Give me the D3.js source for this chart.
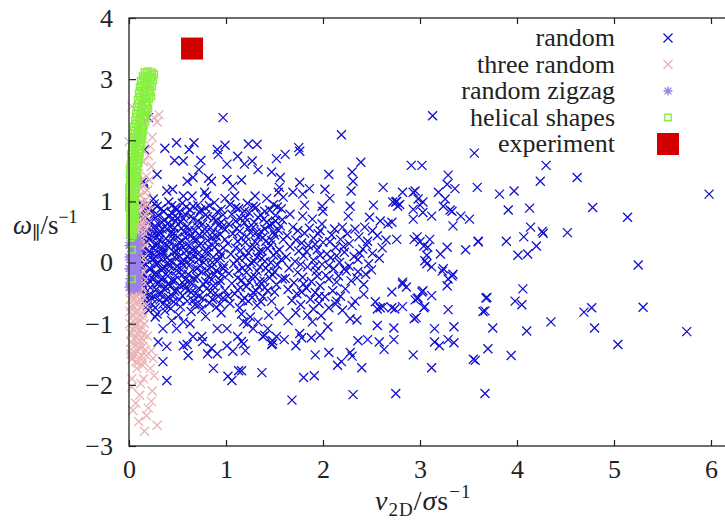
<!DOCTYPE html>
<html>
<head>
<meta charset="utf-8">
<script src="https://cdn.jsdelivr.net/npm/d3@7"></script>
<style>
body { margin: 0; background: #fff; }
svg text { font-family: "Liberation Serif", "DejaVu Serif", serif; fill: #222; }
</style>
</head>
<body>
<svg id="chart" width="725" height="529"></svg>
<script>
// legend labels, in plot order
const seriesNames = ["random", "three random", "random zigzag", "helical shapes", "experiment"];
const xTicks = [0, 1, 2, 3, 4, 5, 6];
const yTicks = [-3, -2, -1, 0, 1, 2, 3, 4];

// "random" shapes: [v2D, omega]
const randomPts = [
  [5.98,1.12],[3.56,1.79],[4.30,1.59],[4.24,1.33],[4.62,1.39],[3.82,1.12],[3.97,1.17],[3.91,0.86],[4.13,0.89],[4.78,0.90],
  [5.14,0.74],[4.14,0.58],[4.26,0.51],[4.27,0.48],[4.07,0.42],[4.52,0.49],[3.89,0.35],[3.60,0.34],[4.20,0.27],[4.01,0.12],
  [4.11,0.14],[5.25,-0.04],[3.59,1.23],[4.06,-0.43],[3.68,-0.58],[3.98,-0.63],[4.05,-0.69],[3.67,-0.79],[4.69,-0.81],[4.77,-0.74],
  [5.30,-0.73],[3.75,-1.07],[4.10,-1.12],[4.35,-0.97],[4.80,-1.07],[5.75,-1.13],[5.04,-1.34],[3.70,-1.41],[3.94,-1.52],[3.57,-1.60],
  [3.67,-2.14],[1.68,-2.25],[2.31,-2.16],[2.75,-2.14],[1.80,-1.88],[1.91,-1.85],[1.37,-1.80],[2.15,-1.68],[2.40,-1.72],[1.16,-1.77],
  [3.12,-1.72],[3.55,-1.58],[2.19,-1.62],[1.92,-1.51],[2.06,-1.47],[2.28,-1.47],[2.30,-1.53],[2.93,-1.51],[2.63,-1.42],[2.36,-1.28],
  [2.46,-1.26],[2.58,-1.30],[2.73,-1.26],[1.72,-1.36],[1.78,-1.23],[1.88,-1.23],[1.60,-1.26],[1.47,-1.34],[3.15,-1.30],[3.20,-1.36],
  [3.29,-1.26],[3.35,-1.31],[3.15,-1.08],[3.35,-1.05],[2.73,-1.07],[2.56,-1.03],[2.94,-0.92],[2.35,-0.94],[2.28,-0.92],[3.29,-0.77],
  [3.65,-0.80],[3.04,-0.74],[2.82,-0.72],[2.71,-0.74],[2.62,-0.72],[2.56,-0.76],[2.98,-0.58],[3.03,-0.46],[2.95,-0.61],[2.82,-0.35],
  [2.71,-0.48],[3.07,-0.02],[3.12,-0.07],[3.24,-0.10],[3.29,-0.27],[3.34,-0.19],[3.69,-0.57],[2.36,-0.15],[2.44,-0.19],[2.24,-0.14],
  [2.14,-0.32],[2.23,-0.43],[2.33,-0.63],[2.14,-0.63],[2.54,-0.64],[2.59,-0.74],[1.64,-0.95],[1.38,-1.21],[1.48,-1.28],[1.76,-1.16],
  [1.97,-1.19],[2.05,-1.05],[1.98,-0.87],[1.89,-0.97],[1.22,-1.00],[1.16,-1.29],
  [0.97,2.37],[0.37,1.87],[0.49,1.96],[0.62,1.85],[0.67,1.96],[0.91,1.85],[0.99,1.92],[1.23,1.94],[1.32,1.93],[0.47,1.67],
  [0.56,1.66],[0.74,1.67],[0.92,1.77],[1.12,1.74],[1.27,1.66],[1.01,1.61],[1.19,1.61],[1.52,1.70],[0.72,1.52],[0.29,1.44],
  [1.33,1.52],[1.47,1.48],[0.60,1.33],[0.66,1.39],[0.82,1.38],[0.85,1.33],[1.01,1.36],[1.07,1.25],[1.16,1.35],[0.39,1.17],
  [0.45,1.20],[0.56,1.09],[0.65,1.09],[0.78,1.15],[0.80,1.09],[0.99,1.05],[1.09,1.09],[1.30,1.09],[1.42,1.05],[1.54,1.15],
  [0.25,1.04],[2.19,2.09],[1.75,1.88],[1.76,1.82],[1.61,1.77],[2.39,1.64],[2.30,1.48],[2.06,1.44],[1.56,1.39],[2.31,1.33],
  [1.76,1.31],[1.55,1.23],[2.02,1.20],[1.86,1.21],[2.29,1.17],[2.62,1.23],[1.69,1.15],[1.79,1.12],[1.59,1.07],[2.07,1.05],
  [1.53,0.91],[1.81,0.94],[1.99,0.92],[2.28,0.92],[2.52,0.94],[2.75,0.99],[1.66,0.79],[1.79,0.76],[2.00,0.84],[2.26,0.76],
  [2.48,0.74],[2.59,0.68],[2.67,0.63],[1.51,0.68],[1.89,0.71],[1.99,0.63],[2.20,0.58],[2.33,0.55],[2.43,0.58],[1.56,0.60],
  [1.69,0.58],[1.95,0.47],[3.13,2.40],[2.91,1.59],[3.02,1.59],[3.29,1.43],[3.36,1.21],[3.19,1.15],[3.28,1.28],[2.82,1.15],
  [2.93,1.15],[3.12,0.76],[3.24,0.92],[3.33,0.84],[3.42,0.76],[3.51,0.71],[3.34,0.60],[3.60,0.35],[3.47,0.21],[2.94,0.38],
  [3.10,0.38],[3.04,0.27],[3.21,0.14],[3.28,0.25],[2.93,0.71],[3.03,0.82],[3.03,0.99],[2.77,0.92],[2.76,1.00],[2.72,0.99],
  [2.79,0.95],[2.95,1.17],[2.98,1.04],[2.93,0.87],[3.00,0.94],[3.26,1.04],[3.31,0.86],[2.71,0.66],[2.76,0.38],[2.97,0.42],
  [3.00,0.34],[3.08,0.25],[3.07,0.12],[3.05,0.03],[3.23,-0.14],[3.33,-0.22],[3.28,-0.38],[2.82,-0.32],[2.86,-0.40],[3.02,-0.48],
  [3.12,-0.54],[2.97,-0.59],[3.05,-0.72],[2.74,-0.76],[2.96,-0.90],
  [1.13,-1.77],[1.02,-1.86],[1.06,-1.93],[0.87,-1.73],[0.39,-1.93],[0.35,-1.62],[0.61,-1.52],[0.60,-1.34],[0.56,-1.36],[0.39,-1.37],
  [0.30,-1.30],[0.75,-1.21],[0.76,-1.29],[0.85,-1.40],[0.81,-1.49],[0.91,-1.49],[1.01,-1.36],[1.07,-1.45],[1.18,-1.33],[1.20,-1.44],
  [1.12,-1.21],[1.40,-1.19],[1.48,-1.33],[1.18,-0.97],[1.01,-1.08],[0.91,-1.08],[0.66,-1.21],[0.63,-1.00],[0.49,-1.08],[0.35,-1.08],
  [0.56,-0.97],[0.44,-0.95],[0.27,-0.89],[1.28,-1.08],[1.33,-0.97],[1.43,-1.08],[1.52,-1.21],[1.16,-0.84],[1.25,-0.89],
  [0.20,2.37],[0.16,1.85],[0.15,1.33],[0.16,1.28],
  // dense core
  [0.12,0.98],[0.18,0.91],[0.26,0.96],[0.33,0.88],[0.41,0.99],[0.48,0.90],[0.55,0.97],[0.63,0.86],[0.71,0.94],[0.79,0.89],
  [0.88,0.98],[0.95,0.87],[0.11,0.80],[0.17,0.74],[0.23,0.83],[0.30,0.77],[0.37,0.70],[0.44,0.81],[0.50,0.73],[0.58,0.79],
  [0.66,0.71],[0.73,0.82],[0.81,0.75],[0.90,0.69],[0.97,0.78],[0.10,0.64],[0.15,0.58],[0.21,0.67],[0.27,0.60],[0.34,0.55],
  [0.40,0.63],[0.47,0.57],[0.53,0.66],[0.60,0.59],[0.68,0.52],[0.76,0.63],[0.84,0.57],[0.92,0.61],[0.99,0.54],[0.12,0.49],
  [0.19,0.43],[0.25,0.51],[0.31,0.45],[0.38,0.39],[0.43,0.48],[0.50,0.42],[0.57,0.50],[0.64,0.44],[0.70,0.37],[0.78,0.47],
  [0.86,0.41],[0.94,0.46],[0.10,0.34],[0.16,0.28],[0.22,0.36],[0.29,0.30],[0.35,0.24],[0.42,0.33],[0.48,0.27],[0.55,0.35],
  [0.62,0.28],[0.69,0.22],[0.74,0.31],[0.82,0.26],[0.89,0.33],[0.97,0.24],[0.13,0.18],[0.20,0.12],[0.27,0.20],[0.33,0.14],
  [0.39,0.08],[0.46,0.17],[0.52,0.10],[0.59,0.19],[0.66,0.12],[0.72,0.05],[0.80,0.15],[0.87,0.09],[0.93,0.18],[0.11,0.03],
  [0.17,-0.04],[0.24,0.05],[0.30,-0.02],[0.37,-0.08],[0.44,0.01],[0.50,-0.06],[0.57,0.03],[0.63,-0.03],[0.70,-0.10],[0.77,0.00],
  [0.85,-0.07],[0.91,0.02],[0.98,-0.05],[0.10,-0.13],[0.16,-0.20],[0.22,-0.11],[0.28,-0.17],[0.35,-0.24],[0.41,-0.14],[0.48,-0.21],
  [0.54,-0.12],[0.61,-0.19],[0.67,-0.26],[0.75,-0.15],[0.82,-0.22],[0.90,-0.13],[0.96,-0.20],[0.12,-0.29],[0.19,-0.36],[0.25,-0.27],
  [0.31,-0.33],[0.38,-0.40],[0.45,-0.30],[0.52,-0.37],[0.58,-0.28],[0.65,-0.35],[0.72,-0.42],[0.79,-0.31],[0.87,-0.38],[0.94,-0.29],
  [0.14,-0.46],[0.21,-0.52],[0.28,-0.44],[0.34,-0.50],[0.41,-0.57],[0.47,-0.47],[0.55,-0.54],[0.62,-0.45],[0.69,-0.51],[0.76,-0.58],
  [0.84,-0.48],[0.92,-0.55],[0.99,-0.46],[0.17,-0.62],[0.24,-0.68],[0.32,-0.61],[0.39,-0.70],[0.46,-0.64],[0.53,-0.72],[0.60,-0.63],
  [0.68,-0.69],[0.75,-0.76],[0.83,-0.66],[0.90,-0.73],[0.20,-0.78],[0.29,-0.84],[0.37,-0.79],[0.51,-0.86],[0.64,-0.80],[0.79,-0.88],
  [0.95,-0.82],[0.14,0.71],[0.24,0.25],[0.19,0.55],[0.31,0.62],[0.15,0.40],[0.26,0.07],[0.13,-0.07],[0.21,-0.30],[0.29,0.42],
  [0.36,0.15],[0.43,0.58],[0.40,-0.35],[0.18,0.22],[0.33,-0.12],[0.26,-0.56],[0.16,0.85],[0.45,0.72],[0.52,0.24],[0.58,-0.42],
  [0.49,0.86],
  [1.04,0.95],[1.13,0.88],[1.22,0.97],[1.31,0.90],[1.40,0.84],[1.49,0.95],[1.57,0.88],[1.06,0.79],[1.15,0.72],[1.24,0.81],
  [1.33,0.74],[1.42,0.66],[1.51,0.77],[1.58,0.70],[1.03,0.63],[1.11,0.56],[1.19,0.65],[1.28,0.58],[1.36,0.51],[1.45,0.61],
  [1.54,0.53],[1.07,0.47],[1.16,0.40],[1.25,0.49],[1.33,0.42],[1.41,0.35],[1.50,0.45],[1.59,0.38],[1.02,0.31],[1.10,0.24],
  [1.20,0.33],[1.29,0.26],[1.37,0.19],[1.46,0.29],[1.55,0.21],[1.05,0.14],[1.14,0.07],[1.23,0.16],[1.32,0.09],[1.40,0.02],
  [1.49,0.12],[1.57,0.05],[1.08,-0.02],[1.17,-0.09],[1.26,0.00],[1.35,-0.07],[1.44,-0.14],[1.53,-0.04],[1.03,-0.18],[1.12,-0.25],
  [1.21,-0.16],[1.30,-0.23],[1.39,-0.30],[1.48,-0.20],[1.58,-0.27],[1.06,-0.34],[1.15,-0.41],[1.24,-0.32],[1.34,-0.39],[1.43,-0.46],
  [1.52,-0.36],[1.09,-0.51],[1.19,-0.58],[1.28,-0.49],[1.38,-0.56],[1.47,-0.63],[1.04,-0.67],[1.14,-0.74],[1.32,-0.70],[1.23,-0.63],
  [1.63,0.44],[1.72,0.37],[1.81,0.48],[1.90,0.40],[2.00,0.33],[2.09,0.45],[2.18,0.38],[2.27,0.31],[2.37,0.42],[2.46,0.35],
  [2.56,0.44],[2.65,0.37],[1.66,0.26],[1.75,0.19],[1.85,0.28],[1.94,0.21],[2.04,0.14],[2.13,0.25],[2.22,0.17],[2.32,0.10],
  [2.41,0.22],[2.51,0.15],[2.61,0.24],[1.62,0.09],[1.71,0.02],[1.80,0.11],[1.90,0.04],[1.99,-0.03],[2.08,0.08],[2.17,0.00],
  [2.27,-0.06],[2.36,0.05],[2.47,-0.02],[2.58,0.07],[1.65,-0.09],[1.74,-0.16],[1.84,-0.07],[1.93,-0.14],[2.03,-0.21],[2.11,-0.10],
  [2.50,-0.12],[1.61,-0.26],[1.70,-0.33],[1.79,-0.24],[1.88,-0.31],[1.97,-0.38],[2.06,-0.27],[2.29,-0.30],[2.42,-0.36],[1.64,-0.44],
  [1.73,-0.51],[1.83,-0.42],[1.92,-0.49],[2.02,-0.56],[2.10,-0.46],[2.42,-0.52],[1.68,-0.62],[1.77,-0.69],[1.87,-0.60],[1.96,-0.67],
  [2.06,-0.74],[2.20,-0.78],[1.72,-0.82],[1.84,-0.86],[1.55,-0.80],[1.44,-0.86],
  [0.14,0.93],[0.22,0.88],[0.29,0.92],[0.36,0.84],[0.44,0.93],[0.52,0.83],[0.59,0.91],[0.13,0.77],[0.20,0.70],[0.27,0.73],
  [0.34,0.66],[0.41,0.75],[0.48,0.68],[0.56,0.72],[0.12,0.60],[0.18,0.50],[0.25,0.57],[0.32,0.50],[0.39,0.55],[0.46,0.47],
  [0.54,0.56],[0.11,0.41],[0.18,0.35],[0.24,0.44],[0.31,0.37],[0.37,0.31],[0.45,0.40],[0.52,0.33],[0.58,0.41],[0.14,0.25],
  [0.21,0.19],[0.28,0.27],[0.35,0.20],[0.41,0.26],[0.49,0.19],[0.56,0.25],[0.12,0.10],[0.19,0.04],[0.26,0.13],[0.33,0.06],
  [0.40,0.00],[0.47,0.09],[0.54,0.02],[0.60,0.10],[0.14,-0.05],[0.21,-0.09],[0.28,-0.03],[0.35,-0.10],[0.42,-0.06],[0.49,-0.13],
  [0.56,-0.04],[0.12,-0.22],[0.19,-0.25],[0.26,-0.19],[0.33,-0.27],[0.40,-0.22],[0.47,-0.29],[0.55,-0.20],[0.14,-0.37],[0.22,-0.41],
  [0.29,-0.35],[0.36,-0.43],[0.43,-0.38],[0.50,-0.45],[0.57,-0.36],[0.16,-0.53],[0.23,-0.58],[0.31,-0.52],[0.38,-0.60],[0.45,-0.55],
  [0.52,-0.61],[0.19,-0.70],[0.27,-0.74],[0.35,-0.68],[0.43,-0.75],
  [0.66,0.92],[0.74,0.86],[0.83,0.93],[0.91,0.83],[0.64,0.76],[0.71,0.68],[0.79,0.78],[0.87,0.72],[0.95,0.66],[0.62,0.53],
  [0.70,0.60],[0.78,0.55],[0.86,0.49],[0.96,0.58],[0.66,0.39],[0.73,0.45],[0.81,0.36],[0.90,0.43],[0.99,0.38],[0.65,0.21],
  [0.72,0.28],[0.80,0.20],[0.88,0.25],[0.95,0.13],[0.64,0.05],[0.71,0.14],[0.78,0.07],[0.86,0.00],[0.94,0.08],[0.66,-0.12],
  [0.73,-0.05],[0.80,-0.13],[0.88,-0.19],[0.97,-0.10],[0.62,-0.30],[0.70,-0.24],[0.77,-0.36],[0.85,-0.28],[0.93,-0.34],[0.64,-0.49],
  [0.72,-0.55],[0.80,-0.43],[0.89,-0.50],[0.97,-0.58],[0.66,-0.62],[0.73,-0.68],[0.86,-0.60],[0.94,-0.68],[1.02,-0.55],
  [1.10,0.90],[1.19,0.84],[1.28,0.92],[1.36,0.78],[1.45,0.86],[1.10,0.68],[1.20,0.73],[1.29,0.66],[1.39,0.71],[1.48,0.63],
  [1.14,0.51],[1.23,0.56],[1.31,0.49],[1.40,0.55],[1.49,0.50],[1.12,0.35],[1.21,0.42],[1.30,0.34],[1.38,0.41],[1.47,0.36],
  [1.15,0.20],[1.25,0.25],[1.34,0.18],[1.43,0.23],[1.52,0.17],[1.11,0.04],[1.20,0.09],[1.29,0.02],[1.37,0.07],[1.46,0.00],
  [1.13,-0.13],[1.23,-0.07],[1.32,-0.14],[1.41,-0.09],[1.50,-0.15],[1.16,-0.29],[1.26,-0.24],[1.35,-0.31],[1.45,-0.25],[1.12,-0.45],
  [1.21,-0.39],[1.31,-0.46],[1.40,-0.41],[1.50,-0.48],[1.17,-0.62],[1.27,-0.57],[1.36,-0.64],
  [1.74,0.52],[1.86,0.56],[1.97,0.52],[2.12,0.55],[2.25,0.47],[2.51,0.52],[1.78,0.32],[1.92,0.30],[2.07,0.34],[2.21,0.26],
  [2.45,0.29],[1.83,0.18],[1.97,0.12],[2.14,0.11],[2.38,0.15],[1.77,-0.03],[1.92,-0.05],[2.06,-0.05],[2.22,-0.10],[1.80,-0.35],
  [1.94,-0.22],[2.16,-0.22],[2.35,-0.25],[1.78,-0.48],[1.96,-0.55],[2.18,-0.55],[1.90,-0.76],[2.13,-0.68],[2.30,-0.70]
];

const threeRandomPts = [
  [0.31,2.42],[0.26,2.37],[0.18,2.42],[0.03,2.55],[0.00,1.98],[0.22,1.90],[0.23,1.57],[0.18,1.41],[0.01,1.33],[0.29,2.30],
  [0.12,2.20],[0.05,2.05],[0.20,1.75],[0.15,1.65],[0.02,1.72],[0.24,2.05],[0.01,1.50],
  [0.08,1.30],[0.14,1.25],[0.19,1.18],[0.11,1.10],[0.17,1.02],[0.07,0.96],[0.13,0.90],[0.20,0.85],[0.09,0.78],[0.16,0.72],
  [0.06,0.66],[0.12,0.60],[0.18,0.55],[0.08,0.50],[0.14,0.44],[0.05,0.38],[0.11,0.33],[0.17,0.28],[0.21,1.35],[0.10,1.45],
  [0.04,1.20],[0.18,0.95],[0.03,0.85],[0.15,0.62],
  [0.03,-0.45],[0.09,-0.50],[0.14,-0.55],[0.05,-0.60],[0.11,-0.66],[0.02,-0.72],[0.08,-0.78],[0.14,-0.83],[0.04,-0.88],[0.10,-0.94],
  [0.16,-1.00],[0.06,-1.05],[0.12,-1.11],[0.02,-1.16],[0.08,-1.22],[0.15,-1.27],[0.04,-1.33],[0.11,-1.38],[0.17,-1.43],[0.06,-1.48],
  [0.13,-1.53],[0.03,-1.58],[0.09,-1.64],[0.19,-1.20],[0.18,-0.70],[0.01,-1.00],[0.13,-0.40],[0.07,-0.30],[0.12,-0.20],
  [0.18,-2.50],[0.29,-2.66],[0.16,-2.76],[0.04,-2.42],[0.11,-2.17],[0.23,-2.27],[0.03,-2.03],[0.15,-1.90],[0.22,-1.73],[0.25,-1.57],
  [0.15,-1.62],[0.08,-1.73],[0.03,-1.90],[0.23,-1.44],[0.18,-1.52],[0.20,-2.38],[0.10,-2.60],[0.26,-1.85],[0.07,-2.30],[0.12,-1.98],
  [0.24,-2.10],
  [0.06,1.38],[0.12,1.33],[0.16,1.15],[0.09,1.05],[0.14,0.98],[0.05,0.90],[0.11,0.82],[0.17,0.78],[0.07,0.70],[0.13,0.66],
  [0.19,0.62],[0.09,0.56],[0.15,0.50],[0.06,0.45],[0.12,0.40],[0.08,0.30],[0.14,0.24],[0.10,0.18],[0.15,0.08],[0.13,-0.05],
  [0.15,-0.15],[0.10,-0.25],[0.15,-0.32],[0.05,-0.50],[0.12,-0.48],[0.07,-0.55],[0.13,-0.62],[0.08,-0.66],[0.04,-0.70],[0.12,-0.74],
  [0.06,-0.82],[0.11,-0.86],[0.15,-0.90],[0.05,-0.96],[0.08,-1.01],[0.13,-1.05],[0.04,-1.10],[0.09,-1.15],[0.15,-1.18],[0.05,-1.25],
  [0.11,-1.28],[0.07,-1.35],[0.14,-1.38],[0.02,-1.42],[0.09,-1.45],[0.05,-1.52],[0.11,-1.56],[0.07,-1.62],[0.14,-1.68],[0.02,-1.50],
  [0.01,-0.60],[0.01,-0.80],[0.02,-1.30]
];

const zigzagPts = [
  [0.01,0.40],[0.05,0.38],[0.09,0.35],[0.03,0.32],[0.07,0.28],[0.02,0.24],[0.06,0.20],[0.10,0.17],[0.04,0.13],[0.08,0.09],
  [0.01,0.05],[0.05,0.02],[0.09,-0.02],[0.03,-0.06],[0.07,-0.10],[0.02,-0.14],[0.06,-0.18],[0.10,-0.21],[0.04,-0.25],[0.08,-0.29],
  [0.01,-0.33],[0.05,-0.36],[0.09,-0.39],[0.03,-0.42],[0.06,-0.44],[0.02,0.12],[0.08,0.26],[0.04,-0.20],[0.07,0.00],[0.03,0.36],
  [0.02,0.42],[0.06,0.41],[0.09,0.40],[0.04,0.34],[0.08,0.31],[0.00,0.28],[0.05,0.25],[0.09,0.22],[0.03,0.18],[0.07,0.15],
  [0.00,0.09],[0.04,0.06],[0.08,0.04],[0.02,0.00],[0.06,-0.03],[0.10,-0.07],[0.00,-0.10],[0.05,-0.13],[0.09,-0.15],[0.03,-0.17],
  [0.07,-0.23],[0.01,-0.26],[0.06,-0.29],[0.10,-0.31],[0.03,-0.34],[0.08,-0.36],[0.00,-0.40],[0.05,-0.42],[0.09,-0.44],[0.02,-0.46]
];

const helicalPts = [
  [0.16,3.12],[0.20,3.13],[0.24,3.11],[0.26,3.08],[0.14,3.05],[0.19,3.04],[0.23,3.02],[0.12,2.97],[0.17,2.95],[0.22,2.93],
  [0.25,2.98],[0.11,2.87],[0.15,2.85],[0.20,2.84],[0.24,2.88],[0.10,2.77],[0.14,2.75],[0.18,2.73],[0.22,2.78],[0.09,2.66],
  [0.13,2.64],[0.17,2.62],[0.21,2.68],[0.08,2.55],[0.12,2.53],[0.16,2.51],[0.19,2.57],[0.07,2.44],[0.11,2.42],[0.15,2.40],
  [0.18,2.46],[0.06,2.33],[0.10,2.31],[0.14,2.29],[0.16,2.35],[0.05,2.22],[0.09,2.20],[0.13,2.18],[0.15,2.24],[0.04,2.11],
  [0.08,2.09],[0.12,2.07],[0.14,2.13],[0.04,2.00],[0.07,1.98],[0.11,1.96],[0.13,2.02],[0.03,1.89],[0.06,1.87],[0.10,1.85],
  [0.12,1.91],[0.02,1.78],[0.06,1.76],[0.09,1.74],[0.11,1.80],[0.02,1.67],[0.05,1.65],[0.08,1.63],[0.10,1.69],[0.01,1.56],
  [0.04,1.54],[0.07,1.52],[0.09,1.58],[0.01,1.45],[0.04,1.43],[0.07,1.41],[0.08,1.47],[0.01,1.34],[0.03,1.32],[0.06,1.30],
  [0.08,1.36],[0.00,1.23],[0.03,1.21],[0.06,1.19],[0.07,1.25],[0.00,1.12],[0.03,1.10],[0.05,1.08],[0.07,1.14],[0.00,1.01],
  [0.02,0.99],[0.05,0.97],[0.06,1.03],[0.00,0.90],[0.02,0.88],[0.05,0.86],[0.01,0.79],[0.04,0.77],[0.06,0.81],[0.01,0.68],
  [0.04,0.66],[0.06,0.70],[0.01,0.57],[0.03,0.55],[0.05,0.59],[0.01,0.47],[0.04,0.45],[0.03,0.21],[0.03,-0.27],
  [0.18,3.10],[0.22,3.07],[0.15,3.00],[0.20,2.99],[0.24,3.04],[0.13,2.91],[0.18,2.90],[0.22,2.87],[0.12,2.81],[0.16,2.80],
  [0.21,2.81],[0.23,2.72],[0.11,2.71],[0.15,2.69],[0.19,2.68],[0.10,2.60],[0.14,2.58],[0.18,2.60],[0.20,2.52],[0.09,2.49],
  [0.13,2.47],[0.17,2.45],[0.08,2.38],[0.12,2.36],[0.16,2.40],[0.17,2.30],[0.07,2.27],[0.11,2.25],[0.14,2.23],[0.06,2.16],
  [0.10,2.14],[0.13,2.12],[0.15,2.18],[0.05,2.05],[0.09,2.03],[0.12,2.00],[0.14,2.07],[0.04,1.94],[0.08,1.92],[0.11,1.90],
  [0.13,1.96],[0.03,1.83],[0.07,1.81],[0.10,1.79],[0.12,1.85],[0.03,1.72],[0.06,1.70],[0.09,1.68],[0.11,1.74],[0.02,1.61],
  [0.05,1.59],[0.08,1.57],[0.10,1.63],[0.02,1.50],[0.05,1.48],[0.08,1.52],[0.01,1.39],[0.04,1.37],[0.07,1.35],[0.09,1.41],
  [0.01,1.28],[0.04,1.26],[0.07,1.30],[0.01,1.17],[0.03,1.15],[0.06,1.13],[0.07,1.19],[0.01,1.06],[0.03,1.04],[0.06,1.08],
  [0.01,0.95],[0.03,0.93],[0.05,0.91],[0.06,0.97],[0.01,0.84],[0.03,0.82],[0.05,0.80],[0.02,0.73],[0.04,0.71],[0.06,0.75],
  [0.01,0.62],[0.03,0.60],[0.05,0.64],[0.02,0.52],[0.04,0.50],[0.02,0.41]
];

const experimentPts = [[0.65, 3.5]];

const svg = d3.select("#chart");
const x = d3.scaleLinear().domain([0, 6.2]).range([129, 730.4]);
const y = d3.scaleLinear().domain([-3, 4]).range([446, 18]);

const ink = "#222";
const serif = "'Liberation Serif', 'DejaVu Serif', serif";

// marker paths centred on 0,0
function crossPath(r) { return `M${-r},${-r}L${r},${r}M${-r},${r}L${r},${-r}`; }
function starPath(r) { return crossPath(r * 0.75) + `M${-r},0L${r},0M0,${-r}L0,${r}`; }
function squarePath(r) { return `M${-r},${-r}H${r}V${r}H${-r}Z`; }

const series = [
  { name: seriesNames[0], data: randomPts, path: crossPath(4.5), stroke: "#1010d0", fill: "none", sw: 1.3 },
  { name: seriesNames[1], data: threeRandomPts, path: crossPath(4.5), stroke: "#ebb3b6", fill: "none", sw: 1.3 },
  { name: seriesNames[2], data: zigzagPts, path: starPath(4.5), stroke: "#9c80e8", fill: "none", sw: 1.4 },
  { name: seriesNames[3], data: helicalPts, path: squarePath(3.2), stroke: "#88f040", fill: "none", sw: 1.4 },
  { name: seriesNames[4], data: experimentPts, path: squarePath(11), stroke: "none", fill: "#d40000", sw: 0 }
];

const plot = svg.append("g");
series.forEach(s => {
  plot.append("g")
    .selectAll("path")
    .data(s.data)
    .enter()
    .append("path")
    .attr("transform", d => `translate(${x(d[0])},${y(d[1])})`)
    .attr("d", s.path)
    .attr("stroke", s.stroke)
    .attr("stroke-width", s.sw)
    .attr("fill", s.fill);
});

// frame
svg.append("rect")
  .attr("x", x(0)).attr("y", y(4))
  .attr("width", x(6.2) - x(0)).attr("height", y(-3) - y(4))
  .attr("fill", "none").attr("stroke", ink).attr("stroke-width", 1.3);

function styleAxis(g) {
  g.attr("font-family", null).style("font-family", serif);
  g.select(".domain").remove();
  g.selectAll(".tick line").attr("stroke", ink).attr("stroke-width", 1.2);
  g.selectAll(".tick text")
    .style("font-family", serif)
    .style("font-size", "26px")
    .attr("fill", ink);
}

svg.append("g")
  .attr("transform", `translate(0,${y(-3)})`)
  .call(d3.axisBottom(x).tickValues(xTicks).tickFormat(d3.format("d")).tickSize(-6).tickPadding(14))
  .call(styleAxis);

svg.append("g")
  .attr("transform", `translate(0,${y(4)})`)
  .call(d3.axisTop(x).tickValues(xTicks).tickSize(-6).tickFormat(""))
  .call(styleAxis);

svg.append("g")
  .attr("transform", `translate(${x(0)},0)`)
  .call(d3.axisLeft(y).tickValues(yTicks).tickFormat(d3.format("d")).tickSize(-7).tickPadding(16))
  .call(styleAxis);

// axis titles
const yl = svg.append("text").attr("x", 13).attr("y", 234).style("font-size", "27px");
yl.append("tspan").attr("font-style", "italic").text("ω");
yl.append("tspan").attr("dy", 5).style("font-size", "18px").text("∥");
yl.append("tspan").attr("dy", -5).text("/s");
yl.append("tspan").attr("dy", -11).style("font-size", "18px").text("−1");

const xl = svg.append("text").attr("x", 375).attr("y", 510)
  .style("font-size", "28px").style("letter-spacing", "1px");
xl.append("tspan").attr("font-style", "italic").text("v");
xl.append("tspan").attr("dy", 6).style("font-size", "19px").text("2D");
xl.append("tspan").attr("dy", -6).text("/");
xl.append("tspan").attr("font-style", "italic").text("σ");
xl.append("tspan").text("s");
xl.append("tspan").attr("dy", -12).style("font-size", "19px").text("−1");

// legend
const legend = svg.append("g");
series.forEach((s, i) => {
  const cy = 38 + i * 26.5;
  legend.append("text")
    .attr("x", 615).attr("y", cy + 8)
    .attr("text-anchor", "end")
    .style("font-size", "26px")
    .text(s.name);
  legend.append("path")
    .attr("transform", `translate(668,${cy})`)
    .attr("d", s.path)
    .attr("stroke", s.stroke)
    .attr("stroke-width", s.sw)
    .attr("fill", s.fill);
});
</script>
</body>
</html>
